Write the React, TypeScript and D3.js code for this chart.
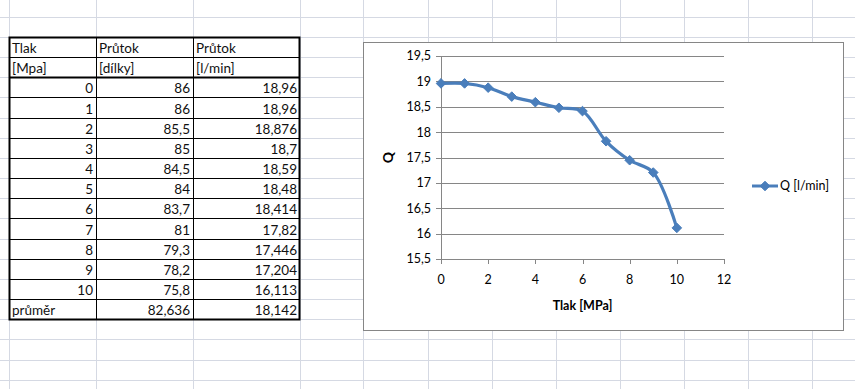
import React from "react";
import * as d3 from "d3";

// ---- data ----
const headers1 = ["Tlak", "Průtok", "Průtok"];
const headers2 = ["[Mpa]", "[dílky]", "[l/min]"];
const tlak = [0, 1, 2, 3, 4, 5, 6, 7, 8, 9, 10];
const dilky = [86, 86, 85.5, 85, 84.5, 84, 83.7, 81, 79.3, 78.2, 75.8];
const prutok = [18.96, 18.96, 18.876, 18.7, 18.59, 18.48, 18.414, 17.82, 17.446, 17.204, 16.113];
const avgLabel = "průměr";
const avgDilky = 82.636;
const avgPrutok = 18.142;
const yTicks = [15.5, 16, 16.5, 17, 17.5, 18, 18.5, 19, 19.5];
const xTicks = [0, 2, 4, 6, 8, 10, 12];
const seriesName = "Q [l/min]";
const xTitle = "Tlak [MPa]";
const yTitle = "Q";

const fmt = (v: number) => String(v).replace(".", ",");

const W = 855;
const H = 389;
const FONT = "Lato, 'Open Sans', sans-serif";
const colX = [9, 96, 193, 300, 363, 428, 492, 556, 620, 684, 748, 812, 876];
const ROW0 = 37;
const ROWH = 20.16;
const GRID = "#d5d9e3";
const BLUE = "#4A7EBB";
const AXIS = "#868686";

export default function App() {
  const rowY = (k: number) => ROW0 + k * ROWH;
  const gridRows = d3.range(-2, 19).map(rowY);

  const x = d3.scaleLinear().domain([0, 12]).range([441, 724]);
  const y = d3.scaleLinear().domain([15.5, 19.5]).range([259, 56]);
  const pts: [number, number][] = tlak.map((t, i) => [x(t), y(prutok[i])]);
  const line = d3.line().curve(d3.curveCatmullRom.alpha(0.5))(pts) || "";

  const diamond = (cx: number, cy: number, r = 4.8) =>
    `M${cx},${cy - r}L${cx + r},${cy}L${cx},${cy + r}L${cx - r},${cy}Z`;

  const tableRows: string[][] = [
    headers1,
    headers2,
    ...tlak.map((t, i) => [fmt(t), fmt(dilky[i]), fmt(prutok[i])]),
    [avgLabel, fmt(avgDilky), fmt(avgPrutok)],
  ];
  const nRows = tableRows.length;
  const tblTop = rowY(0);
  const tblBot = rowY(nRows);

  return (
    <svg
      width={W}
      height={H}
      style={{ position: "absolute", left: 0, top: 0, background: "#fff" }}
      fontFamily={FONT}
    >
      <rect x={0} y={0} width={W} height={H} fill="#fff" />
      {/* spreadsheet grid */}
      {gridRows.map((gy, i) => (
        <line key={"gr" + i} x1={0} x2={W} y1={Math.round(gy) + 0.5} y2={Math.round(gy) + 0.5} stroke={GRID} />
      ))}
      {colX.map((gx, i) => (
        <line key={"gc" + i} x1={gx + 0.5} x2={gx + 0.5} y1={0} y2={H} stroke={GRID} />
      ))}

      {/* table */}
      <rect x={colX[0]} y={tblTop} width={colX[3] - colX[0]} height={tblBot - tblTop} fill="#fff" />
      {tableRows.map((r, k) => {
        const top = rowY(k);
        const bot = rowY(k + 1);
        return (
          <g key={"tr" + k}>
            {r.map((c, j) => {
              const leftAlign = k < 2 || (k === nRows - 1 && j === 0);
              return (
                <text
                  key={j}
                  x={leftAlign ? colX[j] + 3 : colX[j + 1] - 3}
                  y={bot - 4}
                  fontSize={13.5}
                  textAnchor={leftAlign ? "start" : "end"}
                  fill="#111"
                >
                  {c}
                </text>
              );
            })}
            {k > 0 && (
              <line
                x1={colX[0]}
                x2={colX[3]}
                y1={Math.round(top) + 0.5}
                y2={Math.round(top) + 0.5}
                stroke="#000"
                strokeWidth={1}
              />
            )}
          </g>
        );
      })}
      <line x1={colX[0]} x2={colX[3]} y1={Math.round(rowY(2)) + 0.5} y2={Math.round(rowY(2)) + 0.5} stroke="#000" strokeWidth={2} />
      {[1, 2].map((j) => (
        <line key={"tv" + j} x1={colX[j] + 0.5} x2={colX[j] + 0.5} y1={tblTop} y2={tblBot} stroke="#000" />
      ))}
      <rect
        x={colX[0] + 0.5}
        y={Math.round(tblTop) + 0.5}
        width={colX[3] - colX[0] - 1}
        height={Math.round(tblBot) - Math.round(tblTop)}
        fill="none"
        stroke="#000"
        strokeWidth={2}
      />

      {/* chart box */}
      <rect x={363.5} y={42.5} width={480} height={288} fill="#fff" stroke={AXIS} strokeWidth={1} />

      {/* gridlines */}
      {yTicks.slice(1).map((t) => (
        <line key={"yg" + t} x1={x(0)} x2={x(12)} y1={Math.round(y(t)) + 0.5} y2={Math.round(y(t)) + 0.5} stroke={AXIS} />
      ))}
      {/* axes */}
      <line x1={x(0) + 0.5} x2={x(0) + 0.5} y1={y(19.5)} y2={y(15.5) + 0.5} stroke={AXIS} />
      <line x1={x(0)} x2={x(12) + 0.5} y1={Math.round(y(15.5)) + 0.5} y2={Math.round(y(15.5)) + 0.5} stroke={AXIS} />
      {yTicks.map((t) => (
        <g key={"yt" + t}>
          <line x1={x(0) - 5} x2={x(0)} y1={Math.round(y(t)) + 0.5} y2={Math.round(y(t)) + 0.5} stroke={AXIS} />
          <text x={431} y={y(t)} dy="0.35em" textAnchor="end" fontSize={12.5} fill="#000">
            {fmt(t)}
          </text>
        </g>
      ))}
      {xTicks.map((t) => (
        <g key={"xt" + t}>
          <line x1={Math.round(x(t)) + 0.5} x2={Math.round(x(t)) + 0.5} y1={y(15.5)} y2={y(15.5) + 5} stroke={AXIS} />
          <text x={x(t)} y={280} dy="0.35em" textAnchor="middle" fontSize={12.5} fill="#000">
            {fmt(t)}
          </text>
        </g>
      ))}
      <text x={(x(0) + x(12)) / 2} y={306} dy="0.35em" textAnchor="middle" fontSize={12.5} fontWeight="bold" fill="#000">
        {xTitle}
      </text>
      <text
        transform={`translate(388,${(y(15.5) + y(19.5)) / 2}) rotate(-90)`}
        dy="0.35em"
        textAnchor="middle"
        fontSize={14}
        fontWeight="bold"
        fill="#000"
      >
        {yTitle}
      </text>

      {/* series */}
      <path d={line} fill="none" stroke={BLUE} strokeWidth={3.2} strokeLinejoin="round" />
      {pts.map(([px, py], i) => (
        <path key={"m" + i} d={diamond(px, py)} fill={BLUE} stroke={BLUE} strokeWidth={1} />
      ))}

      {/* legend */}
      <line x1={752} x2={778} y1={186} y2={186} stroke={BLUE} strokeWidth={3} />
      <path d={diamond(765, 186)} fill={BLUE} stroke={BLUE} strokeWidth={1} />
      <text x={780} y={186} dy="0.35em" fontSize={12.5} fill="#000">
        {seriesName}
      </text>
    </svg>
  );
}
